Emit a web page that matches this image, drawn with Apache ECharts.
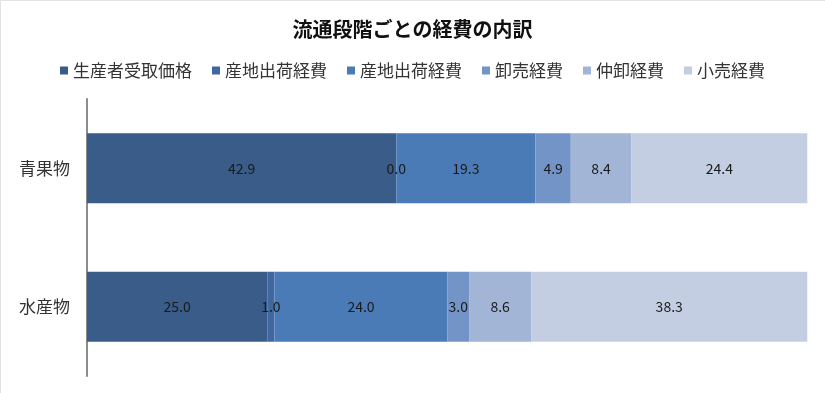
<!DOCTYPE html>
<html>
<head>
<meta charset="utf-8">
<script src="https://cdn.jsdelivr.net/npm/echarts@6/dist/echarts.min.js"></script>
<style>
html,body{margin:0;padding:0;background:#fff;}
#c{width:825px;height:393px;}
</style>
</head>
<body>
<div id="c"></div>
<script>
const titleText = '流通段階ごとの経費の内訳';
const categories = ['青果物', '水産物'];
const seriesNames = ['生産者受取価格', '産地出荷経費', '産地出荷経費', '卸売経費', '仲卸経費', '小売経費'];
const producerPrice = [42.9, 25.0];
const shippingCostA = [0.0, 1.0];
const shippingCostB = [19.3, 24.0];
const wholesaleCost = [4.9, 3.0];
const middleWholesaleCost = [8.4, 8.6];
const retailCost = [24.4, 38.3];
const seriesValues = [producerPrice, shippingCostA, shippingCostB, wholesaleCost, middleWholesaleCost, retailCost];
const colors = ['#3a5c88', '#3f67a0', '#4a7bb6', '#7394c6', '#a2b5d6', '#c3cee3'];

const font = '"Noto Sans CJK JP", "Noto Sans", sans-serif';
const chart = echarts.init(document.getElementById('c'));
chart.setOption({
  animation: false,
  textStyle: { fontFamily: font },
  graphic: [{
    type: 'rect',
    shape: { x: 0.5, y: 0.5, width: 840, height: 410 },
    style: { fill: 'none', stroke: '#e2e2e2', lineWidth: 1 },
    silent: true
  }],
  title: {
    text: titleText,
    left: 'center',
    top: 14,
    textStyle: { fontFamily: font, fontSize: 20, fontWeight: 'bold', color: '#111' }
  },
  legend: {
    top: 57,
    left: 'center',
    icon: 'rect',
    itemWidth: 8,
    itemHeight: 8,
    itemGap: 20,
    textStyle: { fontFamily: font, fontSize: 17, color: '#333', padding: [0, 0, 0, 0] },
    data: seriesNames.map((n, i) => ({ name: n + (i === 2 ? '\u200b' : ''), itemStyle: { color: colors[i] } }))
  },
  grid: { left: 87, right: 17, top: 99, bottom: 17 },
  xAxis: { type: 'value', min: 0, max: 100, show: false },
  yAxis: {
    type: 'category',
    data: categories,
    inverse: true,
    axisLine: { show: true, lineStyle: { color: '#8c8c8c', width: 2 } },
    axisTick: { show: false },
    axisLabel: { fontFamily: font, fontSize: 17, color: '#333', margin: 17 }
  },
  series: seriesValues.map((vals, i) => ({
    name: seriesNames[i] + (i === 2 ? '\u200b' : ''),
    type: 'bar',
    stack: 'total',
    barWidth: 70,
    data: vals,
    itemStyle: { color: colors[i] },
    label: {
      show: true,
      position: 'inside',
      fontFamily: font,
      fontSize: 14,
      color: '#1a1a1a',
      formatter: p => Number(p.value).toFixed(1)
    }
  }))
});
</script>
</body>
</html>
